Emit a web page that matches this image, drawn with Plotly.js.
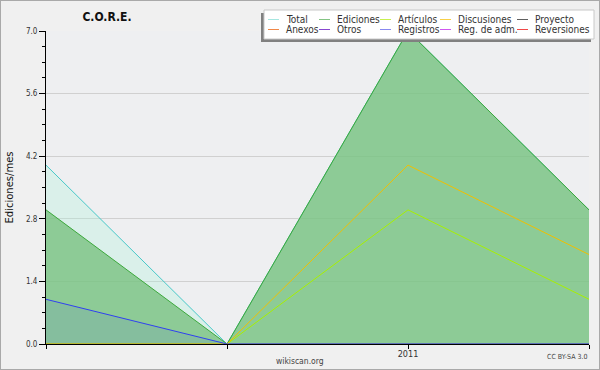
<!DOCTYPE html>
<html><head><meta charset="utf-8">
<script src="https://cdn.plot.ly/plotly-3.0.1.min.js"></script>
<style>
html,body{margin:0;padding:0;background:#f0f0f0}
#wrap{position:relative;width:600px;height:370px}
#chart{width:600px;height:370px}
#frame{position:absolute;left:0;top:0;width:598px;height:368px;border:1px solid #a9a9a9;pointer-events:none}
</style></head><body>
<div id="wrap"><div id="chart"></div><div id="frame"></div></div>
<script>
// ---- data ----
const months = ['2010-11', '2010-12', '2011-01', '2011-02'];
const monthLabels = ['', '', '2011', ''];
const total       = [4, 0, 7, 3];
const ediciones   = [3, 0, 7, 3];
const articulos   = [0, 0, 3, 1];
const discusiones = [0, 0, 4, 2];
const proyecto    = [0, 0, 0, 0];
const anexos      = [0, 0, 0, 0];
const otros       = [0, 0, 0, 0];
const registros   = [1, 0, 0, 0];
const regAdm      = [0, 0, 0, 0];
const reversiones = [0, 0, 0, 0];
const yTicks = [0, 1.4, 2.8, 4.2, 5.6, 7.0];
const legendNames = ['Total', 'Ediciones', 'Artículos', 'Discusiones', 'Proyecto',
                     'Anexos', 'Otros', 'Registros', 'Reg. de adm.', 'Reversiones'];
const legendColors = ['#a6e6e0', '#84c484', '#c8f050', '#f8d048', '#606060',
                      '#f08848', '#8848d0', '#8888f0', '#d058f0', '#f04848'];

// ---- layout geometry (pixels) ----
const W = 600, H = 370;
const M = {l: 46, r: 11, t: 31, b: 26};
const PW = W - M.l - M.r, PH = H - M.t - M.b;
const px = x => (x - M.l) / PW;
const py = y => (H - M.b - y) / PH;
const FONT = '"DejaVu Sans Condensed", "DejaVu Sans", sans-serif';

function line(name, y, color, fill, fillcolor) {
  const t = {x: months, y: y, name: name, type: 'scatter', mode: 'lines',
             line: {color: color, width: 1}, showlegend: false, hoverinfo: 'skip'};
  if (fill) { t.fill = 'tozeroy'; t.fillcolor = fillcolor; }
  return t;
}

const traces = [
  line('Total', total, '#48c8c8', true, 'rgba(171,242,218,0.3)'),
  line('Proyecto', proyecto, '#606060'),
  line('Anexos', anexos, '#f08848'),
  line('Otros', otros, '#8848d0'),
  line('Reg. de adm.', regAdm, '#d058f0'),
  line('Reversiones', reversiones, '#f04848'),
  line('Ediciones', ediciones, '#3ca83c', true, 'rgba(115,191,122,0.75)'),
  line('Artículos', articulos, '#a8f000'),
  line('Discusiones', discusiones, '#f0c000'),
  line('Registros', registros, '#3040f0', true, 'rgba(64,80,240,0.1)')
];

const shapes = [];
const annotations = [];
// legend box with shadow
shapes.push({type: 'rect', xref: 'paper', yref: 'paper', layer: 'above',
  x0: px(261), x1: px(591), y0: py(42), y1: py(13), fillcolor: '#808080', line: {width: 0}});
shapes.push({type: 'rect', xref: 'paper', yref: 'paper', layer: 'above',
  x0: px(264), x1: px(594), y0: py(39), y1: py(10), fillcolor: '#ffffff', line: {color: '#c8c8c8', width: 1}});
const colLine = [268, 319, 380, 440, 517];
const colText = [284, 335, 396, 456, 533];
const rowY = [19.5, 29.5];
legendNames.forEach((n, i) => {
  const c = i % 5, r = Math.floor(i / 5);
  shapes.push({type: 'line', xref: 'paper', yref: 'paper', layer: 'above',
    x0: px(colLine[c]), x1: px(colLine[c] + 11), y0: py(rowY[r]), y1: py(rowY[r]),
    line: {color: legendColors[i], width: 1}});
  annotations.push({xref: 'paper', yref: 'paper', x: px(colText[c]), y: py(rowY[r]),
    xanchor: 'left', yanchor: 'middle', text: n, showarrow: false,
    font: {family: FONT, size: 10, color: '#333'}});
});
annotations.push({xref: 'paper', yref: 'paper', x: px(300), y: py(361), xanchor: 'center', yanchor: 'middle',
  text: 'wikiscan.org', showarrow: false, font: {family: FONT, size: 8.5, color: '#444'}});
annotations.push({xref: 'paper', yref: 'paper', x: px(589), y: py(357), xanchor: 'right', yanchor: 'middle',
  text: 'CC BY-SA 3.0', showarrow: false, font: {family: FONT, size: 7, color: '#444'}});

const layout = {
  width: W, height: H,
  margin: M,
  paper_bgcolor: '#f0f0f0',
  plot_bgcolor: '#eeeff1',
  showlegend: false,
  title: {text: 'C.O.R.E.', x: 107 / W, xanchor: 'center', xref: 'container',
          y: 1 - 17 / H, yanchor: 'middle', yref: 'container',
          font: {family: FONT, size: 12, weight: 'bold', color: '#111'}},
  xaxis: {type: 'category', range: [0, 3], tickvals: months, ticktext: monthLabels,
          ticks: 'outside', ticklen: 4, tickcolor: '#000', showline: true, linecolor: '#000',
          linewidth: 1, showgrid: false, zeroline: false, fixedrange: true,
          ticklabelstandoff: -3,
          tickfont: {family: FONT, size: 9, color: '#333'}},
  yaxis: {range: [0, 7], tickvals: yTicks, ticktext: yTicks.map(v => v.toFixed(1)),
          ticks: 'outside', ticklen: 6, tickcolor: '#000', showline: true, linecolor: '#000',
          linewidth: 1, gridcolor: '#d0d0d0', zeroline: false, fixedrange: true,
          minor: {tickmode: 'linear', tick0: 0, dtick: 0.35, ticks: 'outside', ticklen: 3,
                  tickcolor: '#000', showgrid: false},
          tickfont: {family: FONT, size: 8, color: '#333'},
          title: {text: 'Ediciones/mes', standoff: 10,
                  font: {family: '"DejaVu Sans", sans-serif', size: 10, color: '#111'}}},
  shapes: shapes,
  annotations: annotations
};

Plotly.newPlot('chart', traces, layout, {displayModeBar: false, staticPlot: true});
</script>
</body></html>
